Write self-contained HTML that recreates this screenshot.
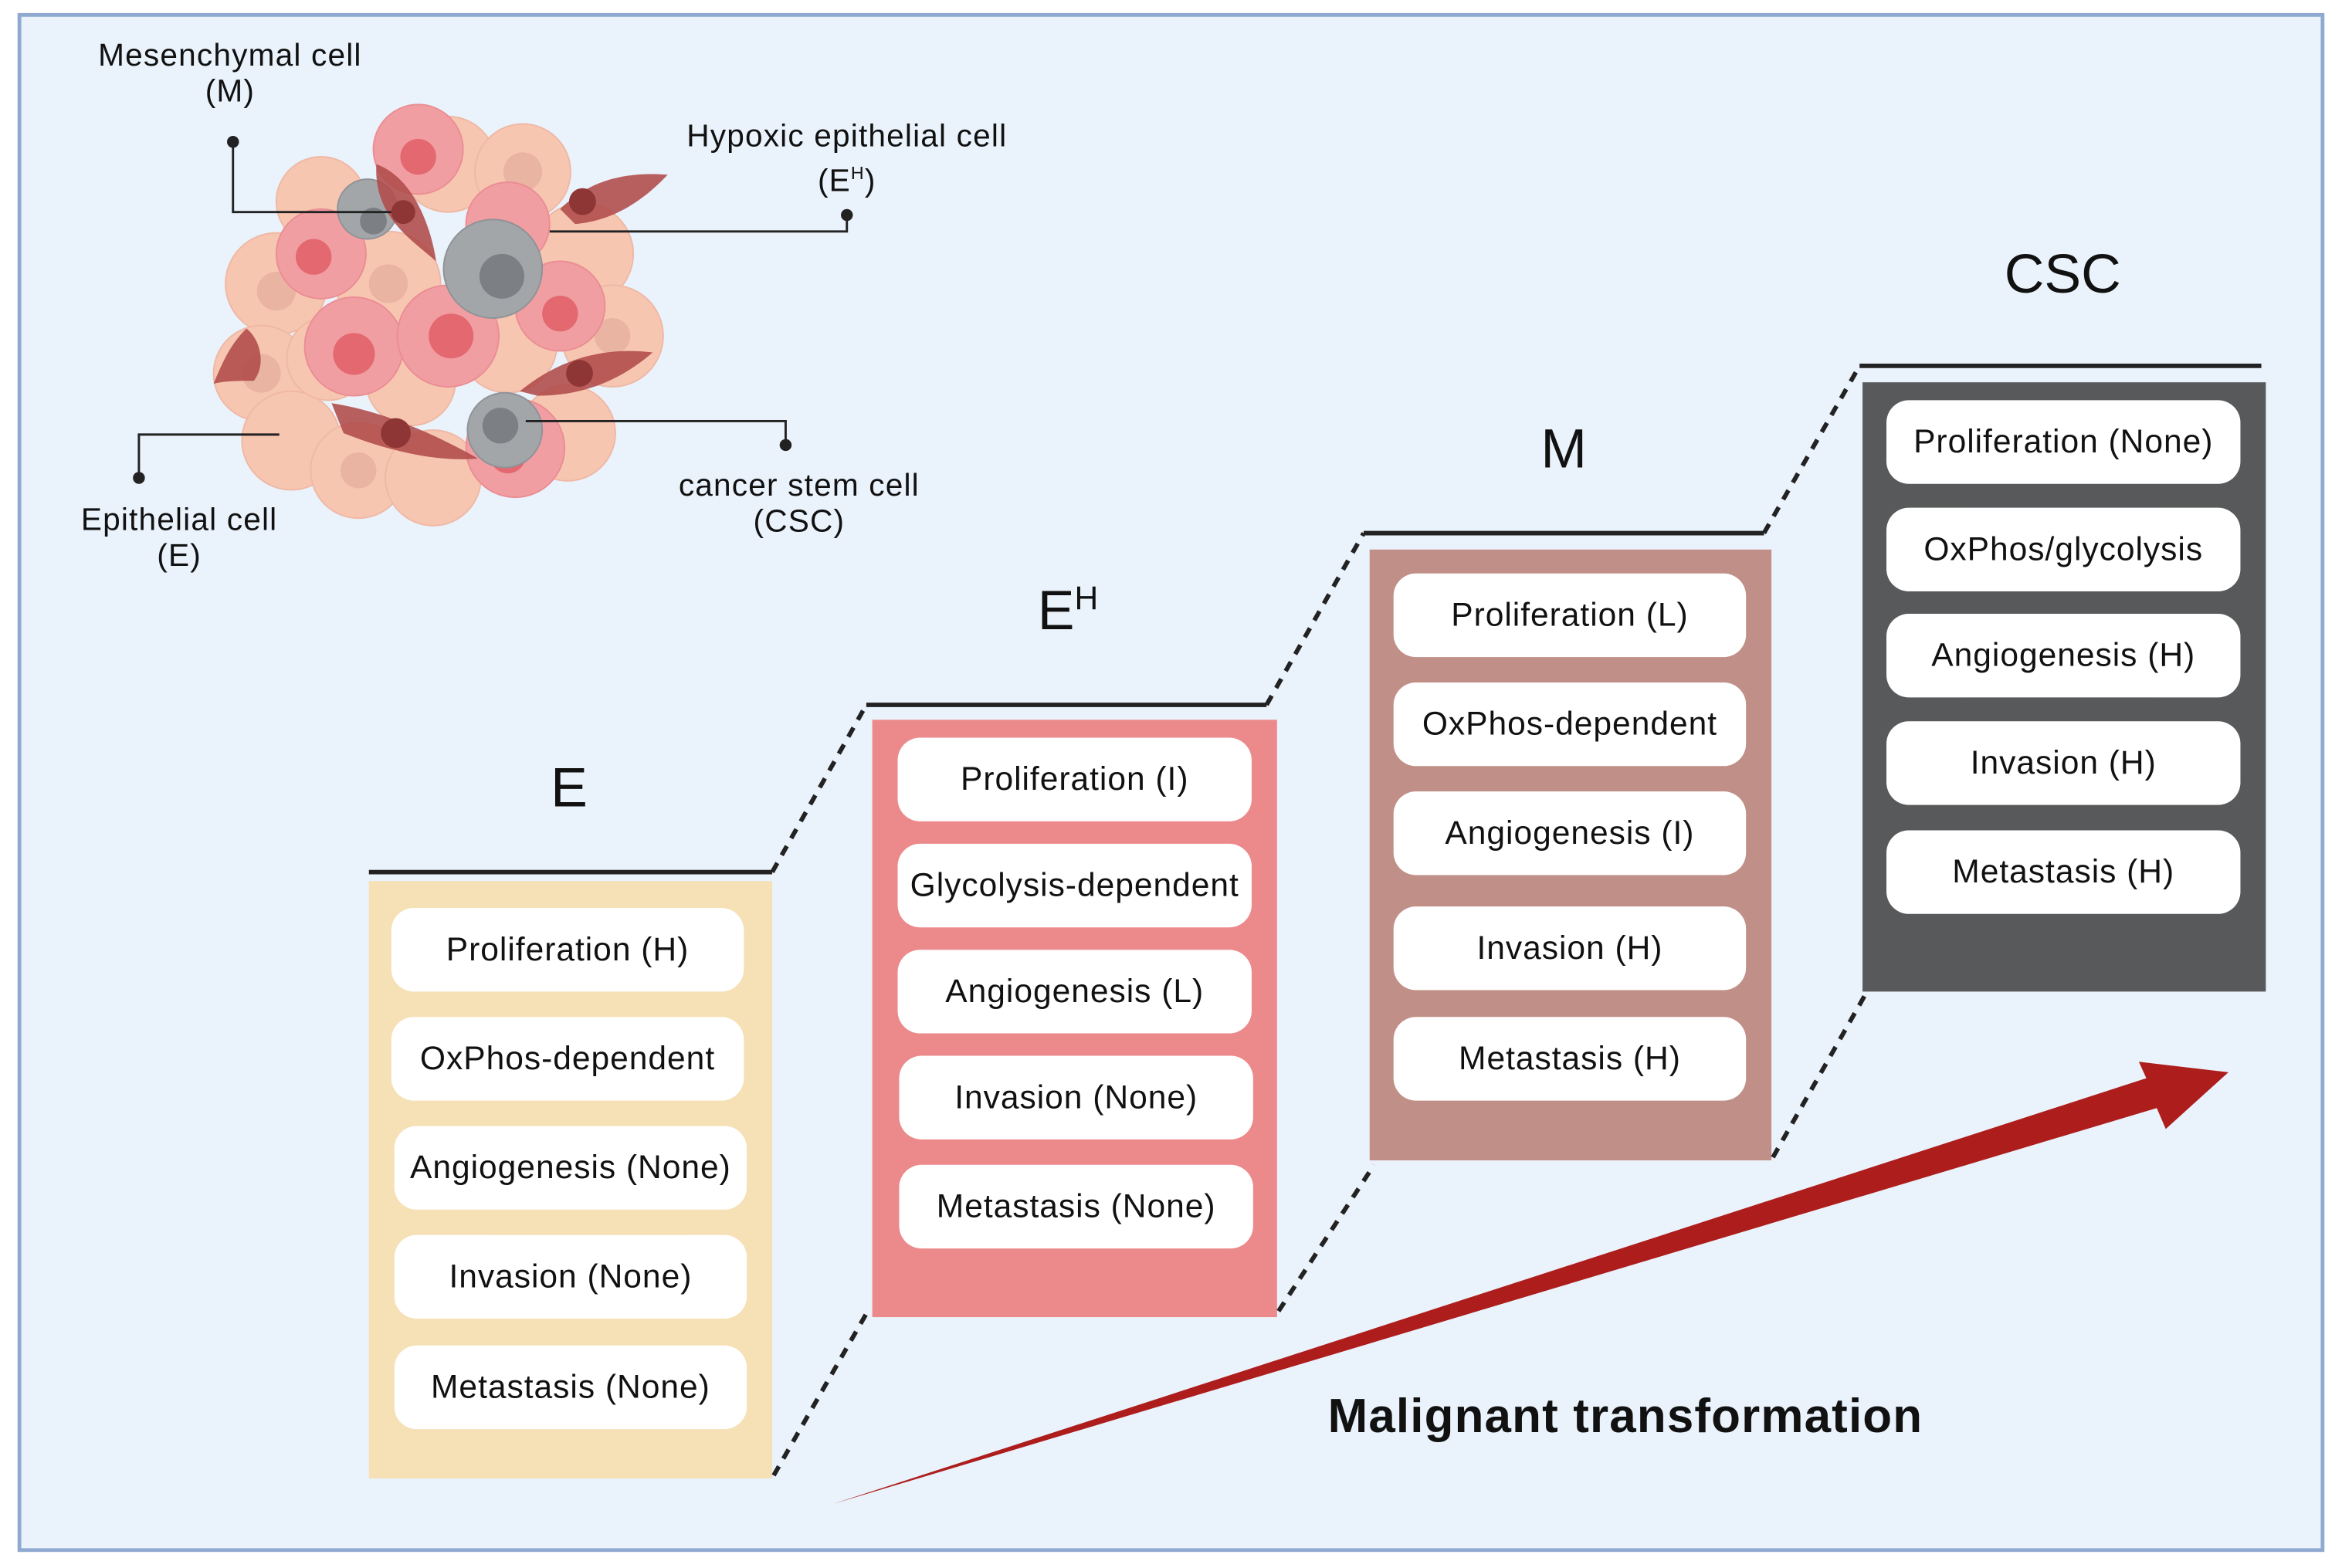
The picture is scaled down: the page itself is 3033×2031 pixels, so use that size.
<!DOCTYPE html>
<html><head><meta charset="utf-8"><style>
html,body{margin:0;padding:0;background:#fff;}
body{width:3033px;height:2030px;overflow:hidden;}
#c{position:absolute;left:0;top:0;width:1568px;height:1050px;transform:scale(1.9343);transform-origin:0 0;font-family:"Liberation Sans",sans-serif;}
.pill{position:absolute;background:#fff;border-radius:15px;height:56px;display:flex;align-items:center;justify-content:center;font-size:22px;letter-spacing:0.5px;color:#111;white-space:nowrap;}
.ttl{position:absolute;font-size:37px;color:#111;transform:translateX(-50%);}
.lab{position:absolute;font-size:21px;letter-spacing:0.6px;color:#111;text-align:center;line-height:24px;transform:translateX(-50%);white-space:nowrap;}
</style></head><body><div id="c">
<svg width="1568" height="1050" style="position:absolute;left:0;top:0">
<rect x="0" y="0" width="1568" height="1050" fill="#fff"/>
<rect x="13" y="10" width="1542" height="1028" fill="#eaf2fb" stroke="#8fa9d0" stroke-width="2.5"/>
<rect x="247" y="590" width="270" height="400" fill="#f6e0b5"/>
<rect x="584" y="482" width="271" height="400" fill="#ec898b"/>
<rect x="917" y="368" width="269" height="409" fill="#c08f87"/>
<rect x="1247" y="256" width="270" height="408" fill="#58595b"/>
<g stroke="#222" stroke-width="3">
<line x1="247" y1="584" x2="517" y2="584"/>
<line x1="580" y1="472" x2="848" y2="472"/>
<line x1="913" y1="357" x2="1181" y2="357"/>
<line x1="1245" y1="245" x2="1514" y2="245"/>
</g>
<g stroke="#222" stroke-width="3" stroke-dasharray="7,6">
<line x1="517" y1="584" x2="580" y2="472"/>
<line x1="518" y1="988" x2="581" y2="878"/>
<line x1="848" y1="472" x2="913" y2="357"/>
<line x1="856" y1="878" x2="920" y2="780"/>
<line x1="1181" y1="357" x2="1245" y2="245"/>
<line x1="1187" y1="775" x2="1250" y2="664"/>
</g>
<polygon points="558,1007 1437,722 1432,711 1492,718 1450,756 1444,742" fill="#ad1d1c"/>
<g>
<g fill="#f7c6b1" stroke="#efb8a4" stroke-width="1">
<circle cx="185" cy="190" r="34"/><circle cx="175" cy="250" r="32"/><circle cx="195" cy="295" r="33"/>
<circle cx="215" cy="135" r="30"/><circle cx="260" cy="190" r="35"/><circle cx="300" cy="110" r="32"/>
<circle cx="350" cy="115" r="32"/><circle cx="390" cy="170" r="34"/><circle cx="410" cy="225" r="34"/>
<circle cx="380" cy="290" r="32"/><circle cx="240" cy="315" r="32"/><circle cx="290" cy="320" r="32"/>
<circle cx="340" cy="230" r="33"/><circle cx="275" cy="255" r="30"/><circle cx="220" cy="240" r="28"/>
</g>
<g fill="#e9b4a2"><circle cx="185" cy="195" r="13"/><circle cx="175" cy="250" r="13"/><circle cx="350" cy="115" r="13"/><circle cx="410" cy="225" r="12"/><circle cx="240" cy="315" r="12"/><circle cx="260" cy="190" r="13"/></g>
<g fill="#f19ea3" stroke="#ea8d93"><circle cx="280" cy="100" r="30"/><circle cx="215" cy="170" r="30"/><circle cx="237" cy="232" r="33"/><circle cx="300" cy="225" r="34"/><circle cx="340" cy="150" r="28"/><circle cx="375" cy="205" r="30"/><circle cx="345" cy="300" r="33"/></g>
<g fill="#e3686f"><circle cx="280" cy="105" r="12"/><circle cx="210" cy="172" r="12"/><circle cx="237" cy="237" r="14"/><circle cx="302" cy="225" r="15"/><circle cx="375" cy="210" r="12"/><circle cx="340" cy="305" r="12"/></g>
<g fill="#a3a6a9" stroke="#8f9296"><circle cx="330" cy="180" r="33"/><circle cx="246" cy="140" r="20"/><circle cx="338" cy="288" r="25"/></g>
<g fill="#7c7f83"><circle cx="336" cy="185" r="15"/><circle cx="250" cy="148" r="9"/><circle cx="335" cy="285" r="12"/></g>
<g fill="#b14e4d" opacity="0.9">
<path d="M252,110 C280,120 290,160 292,175 C275,160 250,145 252,110Z"/>
<path d="M375,140 C395,120 420,115 447,117 C430,135 410,148 385,150Z"/>
<path d="M348,262 C375,240 405,232 437,236 C415,255 390,265 360,265Z"/>
<path d="M222,270 C255,275 290,290 320,307 C290,310 255,300 230,290Z"/>
<path d="M165,220 C175,228 178,245 170,255 C160,255 150,255 143,257 C150,240 155,230 165,220Z"/>
</g>
<g fill="#8e3636"><circle cx="270" cy="142" r="8"/><circle cx="390" cy="135" r="9"/><circle cx="388" cy="250" r="9"/><circle cx="265" cy="290" r="10"/></g>
</g>
<g stroke="#222" stroke-width="1.5" fill="none">
<polyline points="156,95 156,142 262,142"/>
<polyline points="567,144 567,155 368,155"/>
<polyline points="526,298 526,282 352,282"/>
<polyline points="93,320 93,291 187,291"/>
</g>
<g fill="#222"><circle cx="156" cy="95" r="4"/><circle cx="567" cy="144" r="4"/><circle cx="526" cy="298" r="4"/><circle cx="93" cy="320" r="4"/></g>
</svg>
<div class="lab" style="left:154px;top:26px">Mesenchymal cell<br>(M)</div>
<div class="lab" style="left:567px;top:80px">Hypoxic epithelial cell<br>(E<sup style="font-size:12px">H</sup>)</div>
<div class="lab" style="left:120px;top:337px">Epithelial cell<br>(E)</div>
<div class="lab" style="left:535px;top:314px">cancer stem cell<br>(CSC)</div>

<div class="ttl" style="left:381px;top:507px">E</div>
<div class="ttl" style="left:715px;top:388px">E<sup style="font-size:22px">H</sup></div>
<div class="ttl" style="left:1047px;top:280px">M</div>
<div class="ttl" style="left:1381px;top:163px">CSC</div>

<div class="pill" style="left:262px;top:608px;width:236px">Proliferation (H)</div>
<div class="pill" style="left:262px;top:681px;width:236px">OxPhos-dependent</div>
<div class="pill" style="left:264px;top:754px;width:236px">Angiogenesis (None)</div>
<div class="pill" style="left:264px;top:827px;width:236px">Invasion (None)</div>
<div class="pill" style="left:264px;top:901px;width:236px">Metastasis (None)</div>

<div class="pill" style="left:601px;top:494px;width:237px">Proliferation (I)</div>
<div class="pill" style="left:601px;top:565px;width:237px">Glycolysis-dependent</div>
<div class="pill" style="left:601px;top:636px;width:237px">Angiogenesis (L)</div>
<div class="pill" style="left:602px;top:707px;width:237px">Invasion (None)</div>
<div class="pill" style="left:602px;top:780px;width:237px">Metastasis (None)</div>

<div class="pill" style="left:933px;top:384px;width:236px">Proliferation (L)</div>
<div class="pill" style="left:933px;top:457px;width:236px">OxPhos-dependent</div>
<div class="pill" style="left:933px;top:530px;width:236px">Angiogenesis (I)</div>
<div class="pill" style="left:933px;top:607px;width:236px">Invasion (H)</div>
<div class="pill" style="left:933px;top:681px;width:236px">Metastasis (H)</div>

<div class="pill" style="left:1263px;top:268px;width:237px">Proliferation (None)</div>
<div class="pill" style="left:1263px;top:340px;width:237px">OxPhos/glycolysis</div>
<div class="pill" style="left:1263px;top:411px;width:237px">Angiogenesis (H)</div>
<div class="pill" style="left:1263px;top:483px;width:237px">Invasion (H)</div>
<div class="pill" style="left:1263px;top:556px;width:237px">Metastasis (H)</div>

<div style="position:absolute;left:889px;top:930px;font-size:32px;letter-spacing:0.6px;font-weight:bold;color:#111;white-space:nowrap">Malignant transformation</div>
</div></body></html>
